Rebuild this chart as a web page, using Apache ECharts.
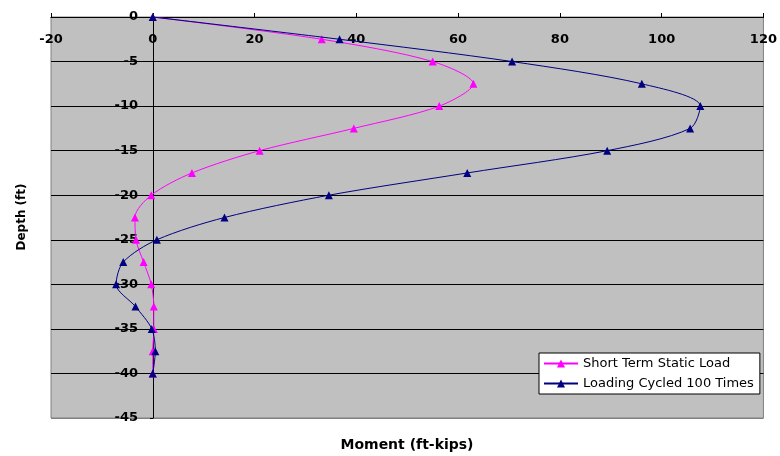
<!DOCTYPE html>
<html>
<head>
<meta charset="utf-8">
<script src="https://cdn.jsdelivr.net/npm/echarts@6/dist/echarts.min.js"></script>
<style>html,body{margin:0;padding:0;background:#fff}#c{width:780px;height:456px}</style>
</head>
<body>
<div id="c"></div>
<script>
// Depths (ft)
const staticDepth = [0, -2.5, -5, -7.5, -10, -12.5, -15, -17.5, -20, -22.5, -25, -27.5, -30, -32.5, -35, -37.5, -40];
const staticMoment = [0, 33.2, 55.0, 63.0, 56.3, 39.5, 21.0, 7.7, -0.3, -3.5, -3.3, -1.8, -0.3, 0.2, 0.2, 0.0, 0.0];
const cycledDepth = [0, -2.5, -5, -7.5, -10, -12.5, -15, -17.5, -20, -22.5, -25, -27.5, -30, -32.5, -35, -37.5, -40];
const cycledMoment = [0, 36.7, 70.6, 96.1, 107.6, 105.6, 89.3, 61.8, 34.6, 14.1, 0.8, -5.8, -7.2, -3.4, -0.2, 0.5, 0.0];
const seriesNames = ['Short Term Static Load', 'Loading Cycled 100 Times'];
const xTitle = 'Moment (ft-kips)';
const yTitle = 'Depth (ft)';
const xMin = -20, xMax = 120, xStep = 20;
const yMin = -45, yMax = 0, yStep = 5;

const FONT = '"DejaVu Sans", "Liberation Sans", Arial, sans-serif';
const pairs = (xs, ys) => xs.map((x, i) => [x, ys[i]]);

const W = 780, H = 456;
const gridLeft = 51, gridRight = 15, gridTop = 17, gridBottom = 38;
const gridW = W - gridLeft - gridRight;
// y axis crosses at x = 0 (Excel style): shift it into the plot by the scale position of 0
const yAxisOffset = -gridW * (0 - xMin) / (xMax - xMin);

const chart = echarts.init(document.getElementById('c'), null, {renderer: 'canvas'});
const nLines = (yMax - yMin) / yStep + 1;
const splitColors = ['#808080'].concat(new Array(nLines - 1).fill('#000000'));
chart.setOption({
  animation: false,
  backgroundColor: '#ffffff',
  grid: {left: gridLeft, right: gridRight, top: gridTop, bottom: gridBottom, show: true, backgroundColor: '#C0C0C0', borderColor: '#808080', borderWidth: 1},
  xAxis: {
    type: 'value', position: 'top', min: xMin, max: xMax, interval: xStep,
    axisLine: {onZero: false, lineStyle: {color: '#000', width: 1}},
    axisTick: {show: true, inside: false, length: 4, lineStyle: {color: '#000'}},
    axisLabel: {inside: true, margin: 16, hideOverlap: false, showMinLabel: true, showMaxLabel: true, color: '#000', fontFamily: FONT, fontWeight: 'bold', fontSize: 13},
    splitLine: {show: false}
  },
  yAxis: {
    type: 'value', min: yMin, max: yMax, interval: yStep, offset: yAxisOffset,
    axisLine: {onZero: false, lineStyle: {color: '#000', width: 1}},
    axisTick: {show: true, inside: false, length: 3, lineStyle: {color: '#000'}},
    axisLabel: {margin: 15, hideOverlap: false, showMinLabel: true, showMaxLabel: true, color: '#000', fontFamily: FONT, fontWeight: 'bold', fontSize: 13},
    splitLine: {show: true, lineStyle: {color: splitColors, width: 1.2}}
  },
  legend: {
    orient: 'vertical', left: 539, top: 353,
    backgroundColor: '#ffffff', borderColor: '#000', borderWidth: 1,
    padding: [4, 6, 4, 4], itemWidth: 34, itemHeight: 10, itemGap: 7,
    textStyle: {fontFamily: FONT, fontSize: 13, color: '#000'},
    data: seriesNames
  },
  graphic: [
    {type: 'text', x: 22, y: 217, rotation: Math.PI / 2, style: {text: yTitle, font: 'bold 12px ' + FONT, fill: '#000', textAlign: 'center', textVerticalAlign: 'middle'}},
    {type: 'text', x: 407, y: 445, style: {text: xTitle, font: 'bold 14px ' + FONT, fill: '#000', textAlign: 'center', textVerticalAlign: 'middle'}}
  ],
  series: [
    {
      name: seriesNames[0], type: 'line', data: pairs(staticMoment, staticDepth),
      smooth: 0.3, symbol: 'triangle', symbolSize: 8,
      lineStyle: {color: '#FF00FF', width: 1}, itemStyle: {color: '#FF00FF'}, z: 3
    },
    {
      name: seriesNames[1], type: 'line', data: pairs(cycledMoment, cycledDepth),
      smooth: 0.3, symbol: 'triangle', symbolSize: 8,
      lineStyle: {color: '#000080', width: 1}, itemStyle: {color: '#000080'}, z: 4
    }
  ]
});
</script>
</body>
</html>
